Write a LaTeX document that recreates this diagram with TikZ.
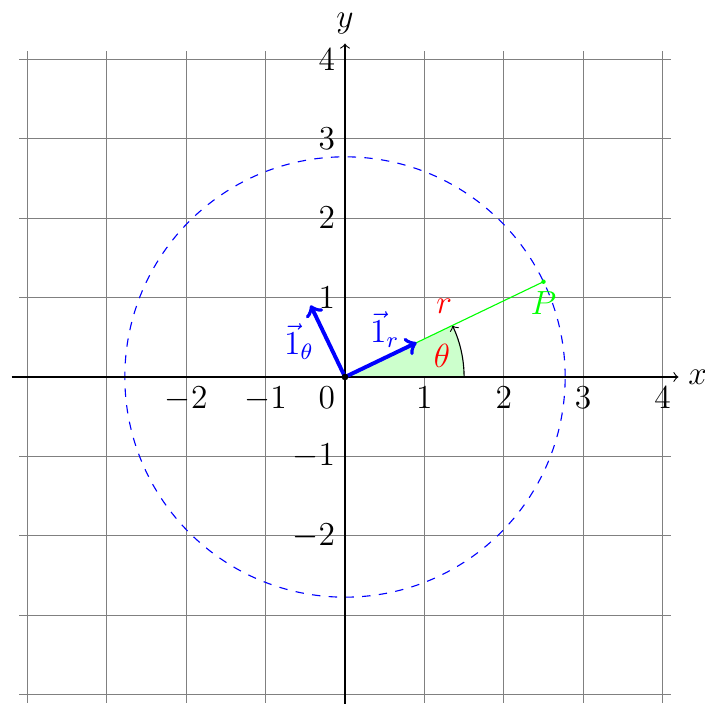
\documentclass[tikz,border=0pt]{standalone}
\usetikzlibrary{calc}
\begin{document}
\begin{tikzpicture}[x=1cm,y=1cm,
  every node/.style={font=\fontsize{12}{14}\selectfont},
  gridline/.style={gray, line width=0.4pt},
  axis/.style={->, black, line width=0.4pt},
  vec/.style={->, blue, line width=1.4pt},
  lab/.style={inner sep=2pt}]
\useasboundingbox (-4.345,-4.106) rectangle (4.534,4.748);
\draw[gridline] (-4.1,-4.1) grid (4.1,4.1);
\coordinate (O) at (0,0);
\coordinate (P) at (2.5,1.2);
\coordinate (A) at (1.5,0);
\fill[green!20] (O) -- (A) arc[start angle=0, end angle=25.64, radius=1.5] -- cycle;
\draw[->] (A) arc[start angle=0, end angle=25.64, radius=1.5];
\draw[blue, dashed] (O) circle[radius=2.773];
\draw[axis] (-4.2,0) -- (4.2,0) node[right] (xl) {$x$};
\draw[axis] (0,-4.2) -- (0,4.2) node[above] (yl) {$y$};
\foreach \i in {-2,-1,1,2,3,4} \node[below] (xt\i) at (\i,0) {$\i$};
\foreach \i in {-2,-1,1,2,3,4} \node[left] (yt\i) at (0,\i) {$\i$};
\node[below left] (zero) at (O) {$0$};
\draw[green] (O) -- (P) node[pos=0.5, above, red, yshift=2pt] (rl) {$r$};
\fill[green] (P) circle[radius=0.8pt];
\node[green, below] (Pl) at (P) {$P$};
\node[red] (th) at (12.5:1.25) {$\theta$};
\coordinate (ur) at (25.64:1);
\coordinate (ut) at (115.64:1);
\draw[vec] (O) -- (ur);
\draw[vec] (O) -- (ut);
\node[blue] (url) at (0.5,0.6) {$\vec{1}_r$};
\node[blue] (utl) at (-0.58,0.45) {$\vec{1}_\theta$};
\fill (O) circle[radius=1.2pt];
\end{tikzpicture}
\end{document}
